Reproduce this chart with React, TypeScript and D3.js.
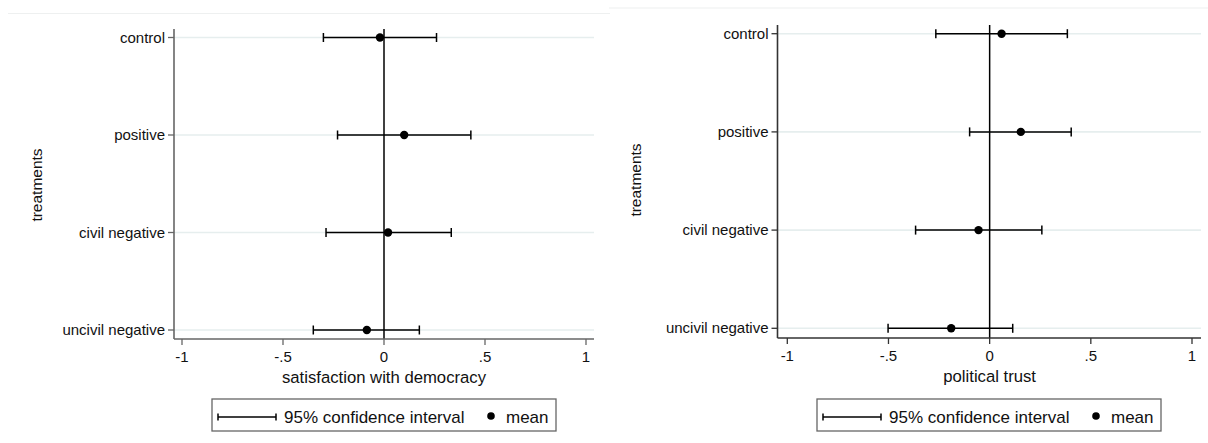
import React from "react";
import * as d3 from "d3";

const categories = ["control", "positive", "civil negative", "uncivil negative"];

const satMean = [-0.02, 0.1, 0.02, -0.085];
const satLow = [-0.3, -0.23, -0.287, -0.35];
const satHigh = [0.26, 0.43, 0.333, 0.175];

const trustMean = [0.059, 0.154, -0.055, -0.19];
const trustLow = [-0.266, -0.099, -0.366, -0.502];
const trustHigh = [0.384, 0.403, 0.258, 0.114];

const xTicks = [-1, -0.5, 0, 0.5, 1];
const xTickLabels = ["-1", "-.5", "0", ".5", "1"];

const FONT = "'Liberation Sans', Arial, sans-serif";

type PanelProps = {
  title: string;
  mean: number[];
  low: number[];
  high: number[];
  axisX: number;
  axisRight: number;
  x0: number;
  x1: number;
  axisTop: number;
  axisBottom: number;
  catTop: number;
  catBottom: number;
  yTitleX: number;
  yTitleY: number;
  legendX: number;
  topLineY: number;
  topLineX0: number;
  topLineX1: number;
  axisColor: string;
};

function Panel(p: PanelProps) {
  const x = d3.scaleLinear().domain([-1, 1]).range([p.x0, p.x1]);
  const y = d3.scalePoint<string>().domain(categories).range([p.catTop, p.catBottom]);
  const axisColor = p.axisColor;
  const cap = 4.5;
  const data = categories.map((c, i) => ({ c, m: p.mean[i], lo: p.low[i], hi: p.high[i] }));
  const lx = p.legendX;
  const ly = 399;
  const lw = 344;
  const lh = 32;
  const lc = ly + lh / 2 + 2;
  return (
    <g>
      <line x1={p.topLineX0} x2={p.topLineX1} y1={p.topLineY} y2={p.topLineY} stroke="#eef0f0" strokeWidth={1.2} />
      {categories.map((c) => (
        <line key={"g" + c} x1={p.axisX} x2={p.axisRight} y1={y(c)} y2={y(c)} stroke="#e6eeee" strokeWidth={1.6} />
      ))}
      <line x1={x(0)} x2={x(0)} y1={p.axisTop} y2={p.axisBottom} stroke="#000" strokeWidth={1.5} />
      <line x1={p.axisX} x2={p.axisX} y1={p.axisTop} y2={p.axisBottom} stroke={axisColor} strokeWidth={1.6} />
      <line x1={p.axisX} x2={p.axisRight} y1={p.axisBottom} y2={p.axisBottom} stroke={axisColor} strokeWidth={1.6} />
      {xTicks.map((t, i) => (
        <g key={"xt" + t}>
          <line x1={x(t)} x2={x(t)} y1={p.axisBottom} y2={p.axisBottom + 6} stroke={axisColor} strokeWidth={1.3} />
          <text x={x(t)} y={p.axisBottom + 23} textAnchor="middle" fontFamily={FONT} fontSize={15} fill="#111">
            {xTickLabels[i]}
          </text>
        </g>
      ))}
      {categories.map((c) => (
        <g key={"yt" + c}>
          <line x1={p.axisX - 6} x2={p.axisX} y1={y(c)} y2={y(c)} stroke={axisColor} strokeWidth={1.3} />
          <text x={p.axisX - 9} y={y(c)! + 5} textAnchor="end" fontFamily={FONT} fontSize={15} fill="#111">
            {c}
          </text>
        </g>
      ))}
      <text x={(p.x0 + p.x1) / 2} y={p.axisBottom + 44} textAnchor="middle" fontFamily={FONT} fontSize={16.7} fill="#111">
        {p.title}
      </text>
      <text
        transform={`translate(${p.yTitleX},${p.yTitleY}) rotate(-90)`}
        textAnchor="middle"
        fontFamily={FONT}
        fontSize={15.5}
        fill="#111"
      >
        treatments
      </text>
      {data.map((d) => (
        <g key={"e" + d.c}>
          <line x1={x(d.lo)} x2={x(d.hi)} y1={y(d.c)} y2={y(d.c)} stroke="#000" strokeWidth={1.5} />
          <line x1={x(d.lo)} x2={x(d.lo)} y1={y(d.c)! - cap} y2={y(d.c)! + cap} stroke="#000" strokeWidth={1.5} />
          <line x1={x(d.hi)} x2={x(d.hi)} y1={y(d.c)! - cap} y2={y(d.c)! + cap} stroke="#000" strokeWidth={1.5} />
          <circle cx={x(d.m)} cy={y(d.c)} r={4.2} fill="#000" />
        </g>
      ))}
      <rect x={lx} y={ly} width={lw} height={lh} fill="#fff" stroke="#666" strokeWidth={1.3} />
      <line x1={lx + 6} x2={lx + 64} y1={lc} y2={lc} stroke="#000" strokeWidth={1.5} />
      <line x1={lx + 6} x2={lx + 6} y1={lc - 3.5} y2={lc + 3.5} stroke="#000" strokeWidth={1.5} />
      <line x1={lx + 64} x2={lx + 64} y1={lc - 3.5} y2={lc + 3.5} stroke="#000" strokeWidth={1.5} />
      <text x={lx + 72} y={lc + 6} fontFamily={FONT} fontSize={17} fill="#111">
        95% confidence interval
      </text>
      <circle cx={lx + 279} cy={lc - 1} r={3.8} fill="#000" />
      <text x={lx + 294} y={lc + 6} fontFamily={FONT} fontSize={17} fill="#111">
        mean
      </text>
    </g>
  );
}

export default function App() {
  return (
    <svg width={1208} height={443} style={{ position: "absolute", left: 0, top: 0, background: "#fff" }}>
      <rect x={0} y={0} width={1208} height={443} fill="#fff" />
      <Panel
        title="satisfaction with democracy"
        mean={satMean}
        low={satLow}
        high={satHigh}
        axisX={174}
        axisRight={594}
        x0={182}
        x1={586}
        axisTop={29}
        axisBottom={339}
        catTop={37.5}
        catBottom={330}
        yTitleX={42}
        yTitleY={185}
        legendX={212}
        topLineY={13.5}
        topLineX0={8}
        topLineX1={610}
        axisColor="#666"
      />
      <Panel
        title="political trust"
        mean={trustMean}
        low={trustLow}
        high={trustHigh}
        axisX={777.5}
        axisRight={1201}
        x0={787.3}
        x1={1192}
        axisTop={25}
        axisBottom={338}
        catTop={33.7}
        catBottom={328.3}
        yTitleX={641}
        yTitleY={180}
        legendX={817}
        topLineY={8}
        topLineX0={609}
        topLineX1={1208}
        axisColor="#333"
      />
    </svg>
  );
}
